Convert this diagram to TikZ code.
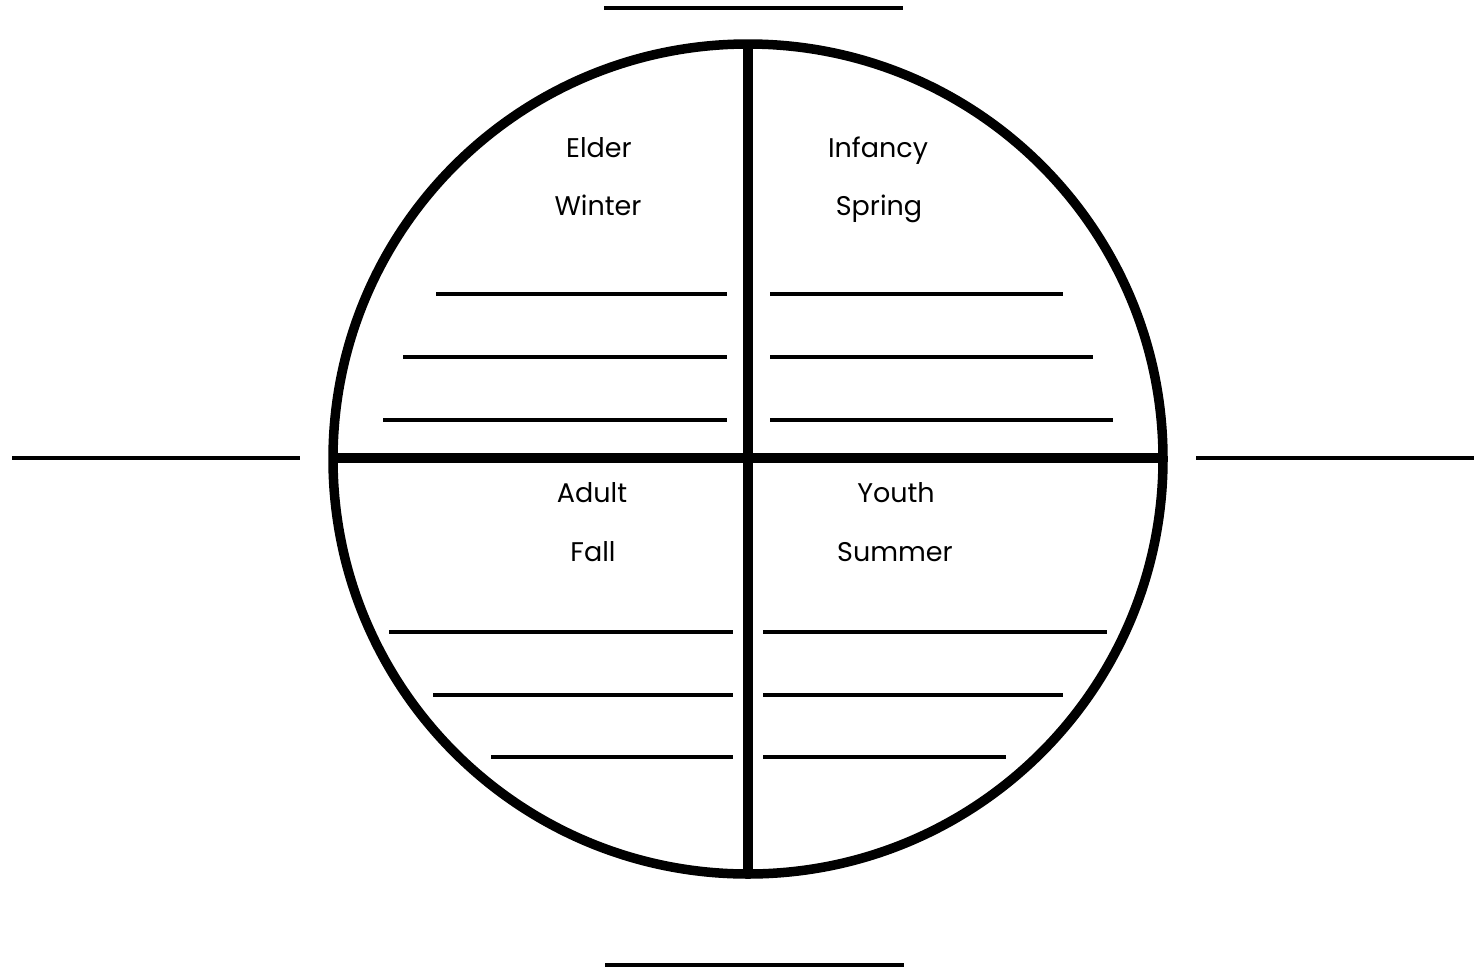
\documentclass[tikz,border=0pt]{standalone}
\usepackage{fontspec}
\setmainfont{Poppins}
\begin{document}
\begin{tikzpicture}[x=1pt,y=-1pt,
  blank/.style={line width=3.2pt},
  heavy/.style={line width=9.5pt},
  lbl/.style={anchor=base,inner sep=0pt,font=\fontsize{27}{30}\selectfont}]
\useasboundingbox (0,0) rectangle (1474,967);
% outer blank lines
\draw[blank] (604,8) -- (903,8);
\draw[blank] (605,965) -- (904,965);
\draw[blank] (12,458) -- (300,458);
\draw[blank] (1196,458) -- (1474,458);
% circle and cross
\coordinate (c) at (748,459);
\draw[heavy] (c) circle[radius=415];
\draw[heavy] (748,44) -- (748,874);
\draw[heavy] (333,458) -- (1163,458);
% labels
\node[lbl] (elder) at (599,157) {Elder};
\node[lbl] (winter) at (598,215) {Winter};
\node[lbl] (infancy) at (878,157) {Infancy};
\node[lbl] (spring) at (879,215) {Spring};
\node[lbl] (adult) at (592,502) {Adult};
\node[lbl] (fall) at (593,561) {Fall};
\node[lbl] (youth) at (896,502) {Youth};
\node[lbl] (summer) at (895,561) {Summer};
% upper left lines
\draw[blank] (436,294) -- (727,294);
\draw[blank] (403,357) -- (727,357);
\draw[blank] (383,420) -- (727,420);
% upper right lines
\draw[blank] (770,294) -- (1063,294);
\draw[blank] (770,357) -- (1093,357);
\draw[blank] (770,420) -- (1113,420);
% lower left lines
\draw[blank] (389,632) -- (733,632);
\draw[blank] (433,695) -- (733,695);
\draw[blank] (491,757) -- (733,757);
% lower right lines
\draw[blank] (763,632) -- (1107,632);
\draw[blank] (763,695) -- (1063,695);
\draw[blank] (763,757) -- (1006,757);
\end{tikzpicture}
\end{document}
